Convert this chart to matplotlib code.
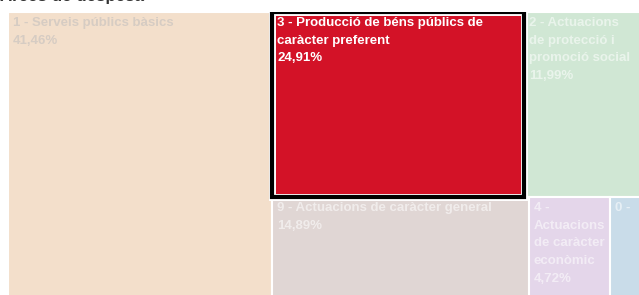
import matplotlib
matplotlib.use("Agg")
import matplotlib.pyplot as plt
from matplotlib.patches import Rectangle
from matplotlib.font_manager import FontProperties

plt.rcParams["font.family"] = ["Liberation Sans", "DejaVu Sans"]

# dades: àrees de despesa (% sobre el total)
labels = ["1 - Serveis públics bàsics",
          "3 - Producció de béns públics de\ncaràcter preferent",
          "2 - Actuacions\nde protecció i\npromoció social",
          "9 - Actuacions de caràcter general",
          "4 -\nActuacions\nde caràcter\neconòmic",
          "0 - Deute públic"]
shares = [41.46, 24.91, 11.99, 14.89, 4.72, 2.03]
box_colors = ["#f3dfcb", "#d31227", "#d0e7d4", "#e0d6d4", "#e4d6ea", "#c9dce9"]
text_colors = ["#d6ccc3", "#ffffff", "#ffffff", "#ffffff", "#ffffff", "#ffffff"]
text_alpha = [1, 1, 0.55, 0.55, 0.55, 0.55]
selected = 1
# primera columna i dues files a la resta
column = [0]
rows = [[1, 2], [3, 4, 5]]

FW, FH = 639, 295
left, top, W, H = 8, 12, 637, 294
fig = plt.figure(figsize=(FW / 100, FH / 100), dpi=100)
ax = fig.add_axes([left / FW, 1 - (top + H) / FH, W / FW, H / FH])
ax.set_xlim(0, 100)
ax.set_ylim(100, 0)
ax.axis("off")

# layout del treemap
rects = {}
w_col = sum(shares[i] for i in column)
y = 0
for i in column:
    h = shares[i] / w_col * 100
    rects[i] = (0, y, w_col, h)
    y += h
rest = 100 - w_col
y = 0
for row in rows:
    rs = sum(shares[i] for i in row)
    h = rs / rest * 100
    x = w_col
    for i in row:
        w = shares[i] / rs * rest
        rects[i] = (x, y, w, h)
        x += w
    y += h

for i, (x, y, w, h) in rects.items():
    ax.add_patch(Rectangle((x, y), w, h, facecolor=box_colors[i],
                           edgecolor="white", lw=1.5, zorder=1))

x, y, w, h = rects[selected]
ax.add_patch(Rectangle((x, y), w, h, fill=False, edgecolor="white", lw=5, zorder=3))
ax.add_patch(Rectangle((x, y), w, h, fill=False, edgecolor="black", lw=3, zorder=4))

fp = FontProperties(family="Liberation Sans", weight="bold", size=9.5)
renderer = fig.canvas.get_renderer()


def width_px(s):
    return renderer.get_text_width_height_descent(s, fp, ismath=False)[0]


for i, (x, y, w, h) in rects.items():
    pct = f"{shares[i]:.2f}".replace(".", ",") + "%"
    limit = w * W / 100 - 6
    # parteix les línies massa llargues i amaga el que no hi cap
    shown = []
    done = False
    for ln in (labels[i] + "\n" + pct).split("\n"):
        cur = ""
        for word in ln.split(" "):
            trial = (cur + " " + word).strip()
            if width_px(trial) <= limit:
                cur = trial
            elif cur:
                shown.append(cur)
                cur = word if width_px(word) <= limit else ""
                if not cur:
                    done = True
                    break
            else:
                done = True
                break
        if done:
            break
        shown.append(cur)
    ax.annotate("\n".join(shown), xy=(x, y), xytext=(5, -5),
                textcoords="offset pixels", ha="left", va="top",
                fontproperties=fp, color=text_colors[i], alpha=text_alpha[i],
                linespacing=1.62, zorder=5)

fig.text(0, 1 - 1 / FH, "Àrees de despesa", fontsize=12.2, fontweight="bold",
         color="#333333", ha="left", va="baseline")

fig.savefig("out.png", dpi=100)
